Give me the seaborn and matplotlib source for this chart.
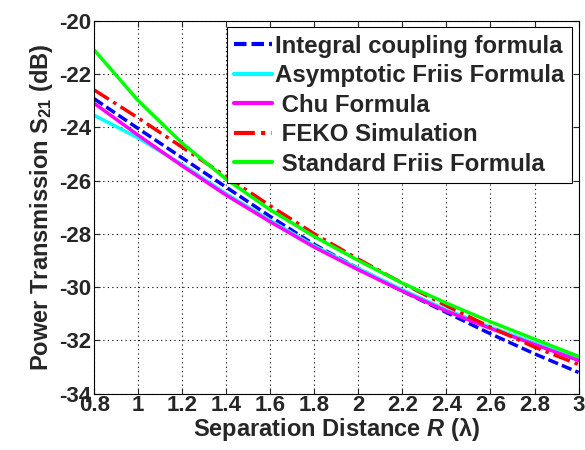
import pandas as pd
import matplotlib
matplotlib.use("Agg")
import matplotlib.pyplot as plt
import seaborn as sns

# --- data ---
distance = [0.8, 1.0, 1.2, 1.4, 1.6, 1.8, 2.0, 2.2, 2.4, 2.6, 2.8, 3.0]
integral = [-22.93, -24.05, -25.15, -26.25, -27.35, -28.40, -29.30, -30.15, -30.95, -31.75, -32.50, -33.20]
asymptotic = [-23.55, -24.40, -25.40, -26.50, -27.50, -28.45, -29.30, -30.10, -30.85, -31.50, -32.10, -32.68]
chu = [-23.10, -24.30, -25.45, -26.55, -27.55, -28.50, -29.35, -30.15, -30.90, -31.55, -32.15, -32.75]
feko = [-22.60, -23.65, -24.75, -25.85, -26.95, -28.00, -28.95, -29.85, -30.70, -31.50, -32.25, -32.90]
friis = [-21.10, -23.00, -24.60, -25.95, -27.10, -28.10, -29.00, -29.85, -30.60, -31.30, -31.95, -32.60]

series = [
    ("Integral coupling formula", integral, "#0000ff", (0, (3, 1.2))),
    ("Asymptotic Friis Formula", asymptotic, "#00ffff", "-"),
    (" Chu Formula", chu, "#ff00ff", "-"),
    (" FEKO Simulation", feko, "#ff0000", (0, (5, 1.5, 1, 1.5))),
    (" Standard Friis Formula", friis, "#00ff00", "-"),
]

sns.set_style("ticks")
plt.rcParams["font.family"] = ["Liberation Sans", "DejaVu Sans"]
plt.rcParams["font.weight"] = "bold"
plt.rcParams["axes.unicode_minus"] = False
plt.rcParams["mathtext.fontset"] = "custom"
plt.rcParams["mathtext.rm"] = "Liberation Sans:bold"
plt.rcParams["mathtext.bf"] = "Liberation Sans:bold"
plt.rcParams["mathtext.it"] = "Liberation Sans:bold:italic"
plt.rcParams["mathtext.default"] = "bf"

fig = plt.figure(figsize=(5.85, 4.5), dpi=100)
ax = fig.add_axes([0.161, 0.125, 0.828, 0.829])

for name, vals, color, ls in series:
    df = pd.DataFrame({"R": distance, "S21": vals})
    sns.lineplot(data=df, x="R", y="S21", ax=ax, color=color, linestyle=ls,
                 linewidth=2.5, label=name)

ax.set_xlim(0.8, 3.0)
ax.set_ylim(-34, -20)
ax.set_xticks([0.8, 1, 1.2, 1.4, 1.6, 1.8, 2, 2.2, 2.4, 2.6, 2.8, 3])
ax.set_xticklabels(["0.8", "1", "1.2", "1.4", "1.6", "1.8", "2", "2.2", "2.4", "2.6", "2.8", "3"])
ax.set_yticks(range(-34, -19, 2))
ax.tick_params(direction="in", top=True, right=True, labelsize=16, length=4, width=0.8, pad=2)
ax.tick_params(axis="x", pad=1)
for lab in ax.get_xticklabels() + ax.get_yticklabels():
    lab.set_fontweight("bold")
ax.grid(True, color="black", linestyle=(0, (1, 3)), linewidth=0.8)
for sp in ax.spines.values():
    sp.set_color("black")
    sp.set_linewidth(0.8)

ax.set_xlabel(r"Separation Distance $\mathit{R}$ (λ)", fontsize=17, fontweight="bold", labelpad=0)
ax.set_ylabel(r"Power Transmission S$_{21}$ (dB)", fontsize=17, fontweight="bold", labelpad=3)

leg = ax.legend(loc="upper right", fontsize=17.3, handlelength=1.55, handletextpad=0.15,
                labelspacing=0.27, borderpad=0.3, borderaxespad=0.28, fancybox=False,
                framealpha=1, edgecolor="black")
leg.get_frame().set_linewidth(0.8)
for t in leg.get_texts():
    t.set_fontweight("bold")
for h in leg.get_lines():
    h.set_linewidth(3)

fig.savefig("out.png", dpi=100)
